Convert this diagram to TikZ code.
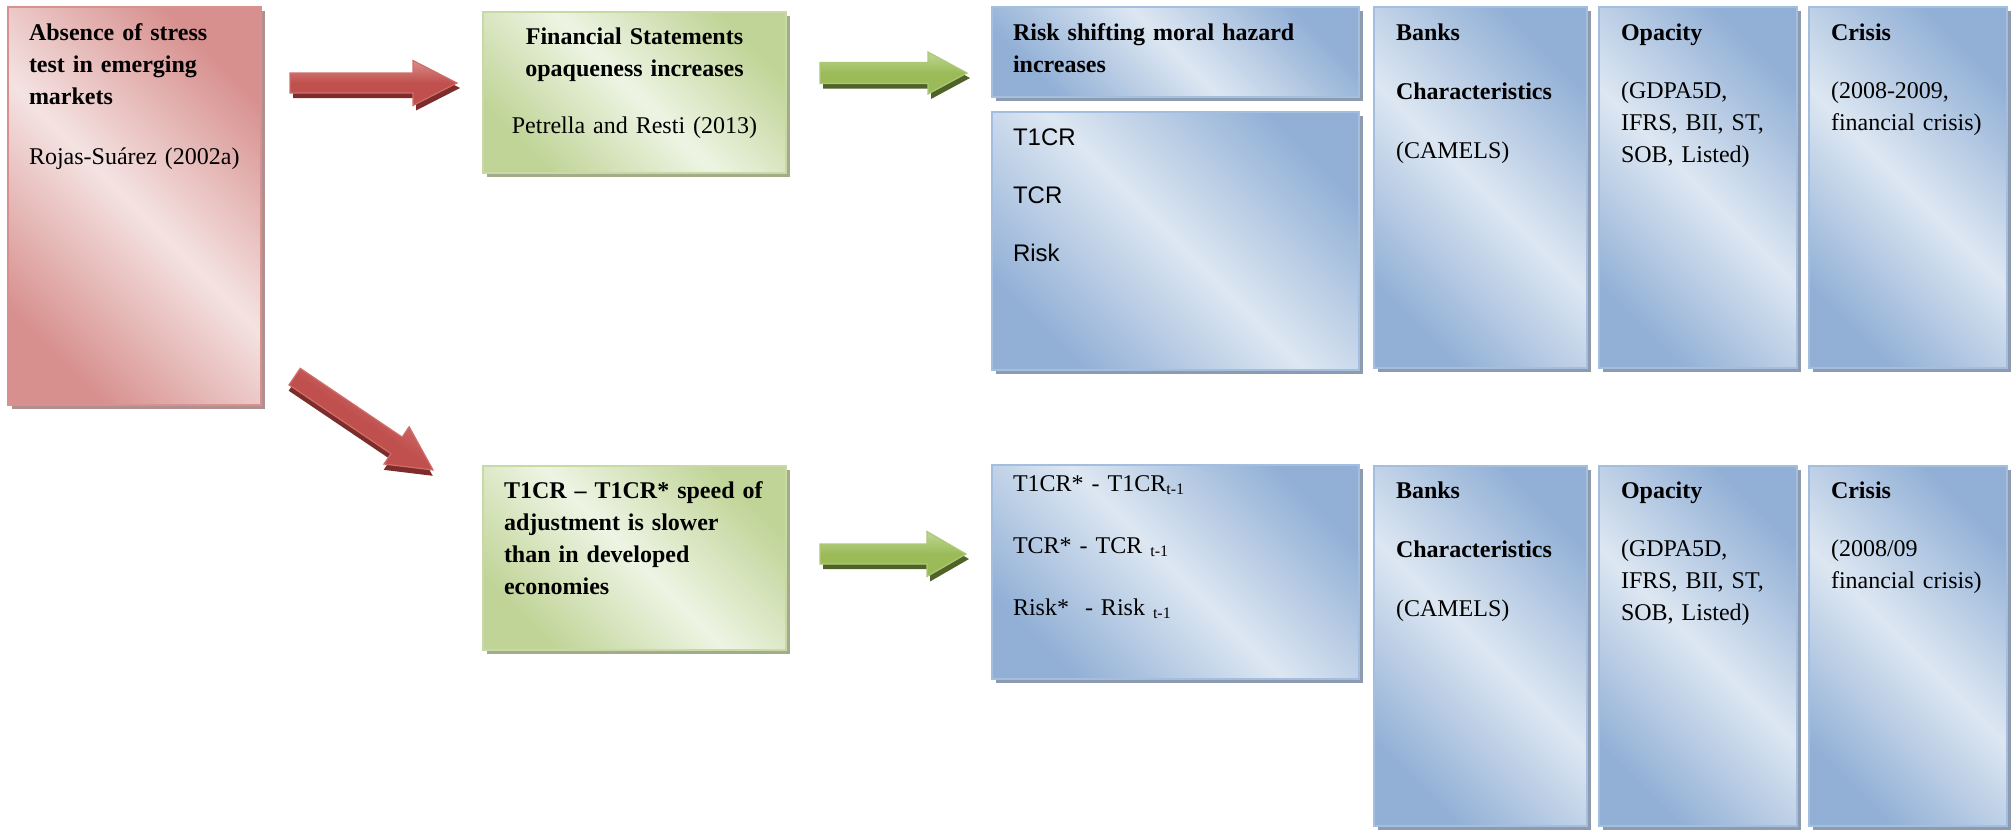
\documentclass[tikz,border=0pt]{standalone}
\usepackage{fontspec}
\setmainfont{Liberation Serif}
\newfontfamily\arialfont{Liberation Sans}
\usetikzlibrary{shadows}

% panel colours
\definecolor{reddark}{HTML}{D7908E}
\definecolor{redlight}{HTML}{F4E3E2}
\definecolor{redline}{HTML}{D8918F}
\definecolor{redshade}{HTML}{B0908F}
\definecolor{bluedark}{HTML}{92B0D6}
\definecolor{bluelight}{HTML}{DDE7F2}
\definecolor{blueline}{HTML}{A3BEDF}
\definecolor{blueshade}{HTML}{8E9BAE}
\definecolor{greendark}{HTML}{C0D497}
\definecolor{greenlight}{HTML}{EEF4E4}
\definecolor{greenline}{HTML}{C8D9A5}
\definecolor{greenshade}{HTML}{A2AC8B}
% block arrow colours
\definecolor{redmain}{HTML}{C0504D}
\definecolor{redhi}{HTML}{DA8C8A}
\definecolor{redrim}{HTML}{D06E6B}
\definecolor{redcast}{HTML}{7C2C2A}
\definecolor{greenmain}{HTML}{9BBB59}
\definecolor{greenhi}{HTML}{C0D694}
\definecolor{greenrim}{HTML}{ADC878}
\definecolor{greencast}{HTML}{4F6228}

\tikzset{
  panel/.style={draw, line width=1pt, inner sep=0pt, outer sep=0pt, anchor=north west},
  redpanel/.style={panel, draw=redline, top color=reddark, bottom color=reddark,
    middle color=redlight, shading angle=-45,
    general shadow={fill=redshade, shadow xshift=2pt, shadow yshift=-2pt}},
  bluepanel/.style={panel, draw=blueline, top color=bluedark, bottom color=bluedark,
    middle color=bluelight, shading angle=-45,
    general shadow={fill=blueshade, shadow xshift=2pt, shadow yshift=-2pt}},
  greenpanel/.style={panel, draw=greenline, top color=greendark, bottom color=greendark,
    middle color=greenlight, shading angle=-45,
    general shadow={fill=greenshade, shadow xshift=2pt, shadow yshift=-2pt}},
  txt/.style={inner sep=0pt, outer sep=0pt, align=left, anchor=base west,
    font=\fontsize{12pt}{16pt}\selectfont},
  redarrow/.style={draw=redrim, line width=0.6pt, top color=redhi,
    bottom color=redmain, middle color=redmain},
  redcastfill/.style={fill=redcast},
  greenarrow/.style={draw=greenrim, line width=0.6pt, top color=greenhi,
    bottom color=greenmain, middle color=greenmain},
  greencastfill/.style={fill=greencast},
}

% panel: style, name, left, top, right, bottom (pixel grid)
\newcommand\panel[6]{%
  \node[#1, minimum width={(#5-#3)*0.5pt}, minimum height={(#6-#4)*0.5pt}] (#2) at (#3,#4) {};}

% block arrow: colour, tail x, tail y, angle, length, head start, shaft half, head half
\newcommand\blockarrow[8]{%
  \begin{scope}[shift={(#2,#3)}, rotate=#4]
    \fill[#1castfill] (3,5-#7) -- (#6+3,5-#7) -- (#6+3,5-#8) -- (#5+3,5) --
      (#6+3,5+#8) -- (#6+3,5+#7) -- (3,5+#7) -- cycle;
    \draw[#1arrow, shading angle=#4] (0,-#7) -- (#6,-#7) -- (#6,-#8) -- (#5,0) --
      (#6,#8) -- (#6,#7) -- (0,#7) -- cycle;
  \end{scope}}

\begin{document}
\begin{tikzpicture}[x=0.5pt, y=-0.5pt]
  \useasboundingbox (0,0) rectangle (2015,830);

  % boxes
  \panel{redpanel}{stress}{8}{7}{261}{405}
  \panel{greenpanel}{opaque}{483}{12}{786}{173}
  \panel{bluepanel}{hazard}{992}{7}{1359}{97}
  \panel{bluepanel}{ratios}{992}{112}{1359}{370}
  \panel{bluepanel}{banksA}{1374}{7}{1587}{368}
  \panel{bluepanel}{opacA}{1599}{7}{1797}{368}
  \panel{bluepanel}{crisisA}{1809}{7}{2007}{368}
  \panel{greenpanel}{speed}{483}{466}{786}{650}
  \panel{bluepanel}{gaps}{992}{465}{1359}{679}
  \panel{bluepanel}{banksB}{1374}{466}{1587}{826}
  \panel{bluepanel}{opacB}{1599}{466}{1797}{826}
  \panel{bluepanel}{crisisB}{1809}{466}{2007}{826}

  % block arrows
  \blockarrow{red}{290}{83}{0}{167}{123}{10}{22.5}
  \blockarrow{red}{294.6}{376.6}{-34}{167}{123}{10}{22.5}
  \blockarrow{green}{820}{73}{0}{147}{108}{10.5}{21}
  \blockarrow{green}{820}{554}{0}{146}{107}{10}{22.5}

  % texts, top row
  \node[txt, text width=115pt] (stresstxt) at (29,40)
    {\textbf{Absence of stress}\\ \textbf{test in emerging}\\ \textbf{markets}\\[14pt]
     Rojas-Suárez (2002a)};
  \node[txt, text width=150pt, align=center, anchor=base] (opaquetxt) at (634.5,45)
    {\textbf{Financial Statements}\\ \textbf{opaqueness increases}\\[12pt]
     Petrella and Resti (2013)};
  \node[txt, text width=170pt] (hazardtxt) at (1013,40)
    {\textbf{Risk shifting moral hazard}\\ \textbf{increases}};
  \node[txt, text width=100pt, font=\arialfont\fontsize{12pt}{16pt}\selectfont] (ratiostxt) at (1013,145)
    {T1CR\\[13.25pt] TCR\\[13.25pt] Risk};
  \node[txt, text width=95pt] (banksAtxt) at (1396,40)
    {\textbf{Banks}\\[13.5pt] \textbf{Characteristics}\\[13.5pt] (CAMELS)};
  \node[txt, text width=90pt] (opacAtxt) at (1621,40)
    {\textbf{Opacity}\\[13pt] (GDPA5D,\\ IFRS, BII, ST,\\ SOB, Listed)};
  \node[txt, text width=90pt] (crisisAtxt) at (1831,40)
    {\textbf{Crisis}\\[13pt] (2008-2009,\\ financial crisis)};

  % texts, bottom row
  \node[txt, text width=135pt] (speedtxt) at (504,498)
    {\textbf{T1CR – T1CR* speed of}\\ \textbf{adjustment is slower}\\
     \textbf{than in developed}\\ \textbf{economies}};
  \node[txt, text width=150pt] (gapstxt) at (1013,491)
    {T1CR* - T1CR\textsubscript{t-1}\\[15pt] TCR* - TCR \textsubscript{t-1}\\[15pt]
     Risk*\ \ - Risk \textsubscript{t-1}};
  \node[txt, text width=95pt] (banksBtxt) at (1396,498)
    {\textbf{Banks}\\[13.5pt] \textbf{Characteristics}\\[13.5pt] (CAMELS)};
  \node[txt, text width=90pt] (opacBtxt) at (1621,498)
    {\textbf{Opacity}\\[13pt] (GDPA5D,\\ IFRS, BII, ST,\\ SOB, Listed)};
  \node[txt, text width=90pt] (crisisBtxt) at (1831,498)
    {\textbf{Crisis}\\[13pt] (2008/09\\ financial crisis)};
\end{tikzpicture}
\end{document}
